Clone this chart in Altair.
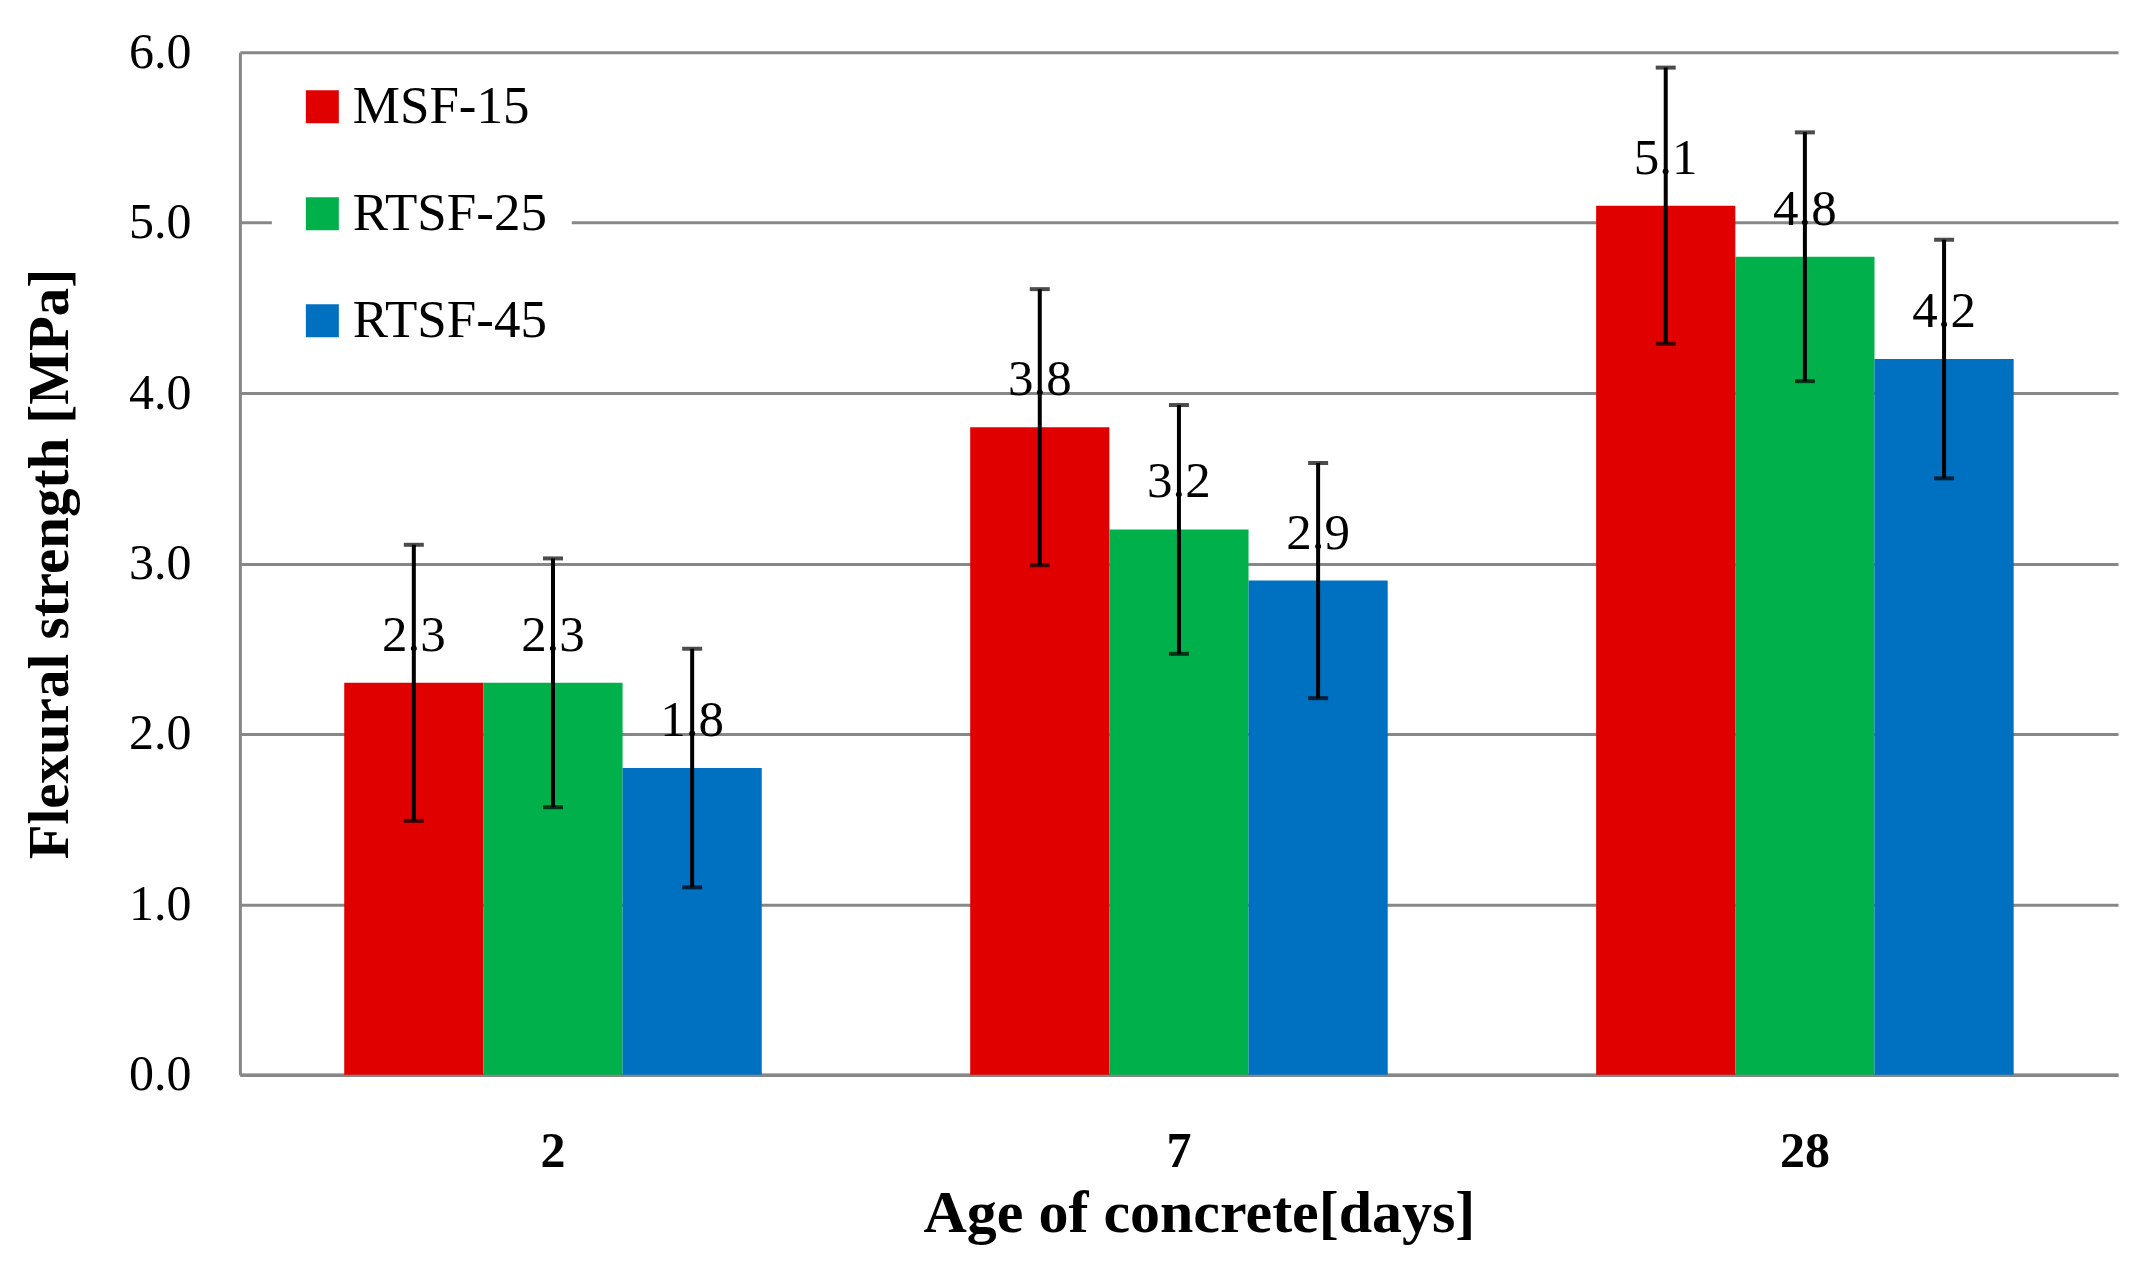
import altair as alt
import pandas as pd

days = ["2", "7", "28"]
series = ["MSF-15", "RTSF-25", "RTSF-45"]
colors = ["#E00000", "#00B04A", "#0070C0"]

msf15 = [2.3, 3.8, 5.1]
rtsf25 = [2.3, 3.2, 4.8]
rtsf45 = [1.8, 2.9, 4.2]

err_msf15 = [0.81, 0.81, 0.81]
err_rtsf25 = [0.73, 0.73, 0.73]
err_rtsf45 = [0.70, 0.69, 0.70]

rows = []
for s, vals, errs in zip(series, [msf15, rtsf25, rtsf45], [err_msf15, err_rtsf25, err_rtsf45]):
    for d, v, e in zip(days, vals, errs):
        rows.append({"day": d, "series": s, "value": v, "err": e})
df = pd.DataFrame(rows)

FONT = "Liberation Serif"
GRID = "#878787"
W, H = 1879, 1023

x = alt.X("day:N", sort=days,
          scale=alt.Scale(paddingInner=0.333, paddingOuter=0.1667),
          axis=alt.Axis(title="Age of concrete[days]", labelAngle=0,
                        labelFont=FONT, labelFontSize=50, labelFontWeight="bold",
                        labelColor="black", labelBaseline="alphabetic",
                        labelPadding=92, tickSize=0, ticks=False,
                        domainColor=GRID, domainWidth=3.5,
                        titleFont=FONT, titleFontSize=60, titleFontWeight="bold",
                        titleColor="black", titleBaseline="alphabetic",
                        titleX=W / 2 + 20, titleY=157, grid=False))
xoff = alt.XOffset("series:N", sort=series, scale=alt.Scale(paddingInner=0, paddingOuter=0))

y_axis = alt.Axis(title="Flexural strength [MPa]", values=[0, 1, 2, 3, 4, 5, 6], format=".1f",
                  labelFont=FONT, labelFontSize=50, labelColor="black",
                  labelPadding=49, tickSize=0, ticks=False,
                  domainColor=GRID, domainWidth=3,
                  gridColor=GRID, gridWidth=3,
                  titleFont=FONT, titleFontSize=57, titleFontWeight="bold",
                  titleColor="black", titleBaseline="alphabetic",
                  titleX=-172, titleY=H / 2, titleAngle=-90)
y = alt.Y("value:Q", scale=alt.Scale(domain=[0, 6], nice=False), axis=y_axis)

color = alt.Color("series:N", sort=series,
                  scale=alt.Scale(domain=series, range=colors),
                  legend=alt.Legend(title=None, orient="none", legendX=32, legendY=4,
                                    fillColor="white", padding=24,
                                    symbolType="square", symbolSize=1089, symbolStrokeWidth=0,
                                    labelFont=FONT, labelFontSize=53, labelColor="black",
                                    labelLimit=500, labelOffset=4, rowPadding=53))

base = alt.Chart(df)

bars = base.mark_bar().encode(x=x, xOffset=xoff, y=y, color=color)

labels = base.mark_text(font=FONT, fontSize=51, color="black", baseline="alphabetic", dy=-32).encode(
    x=alt.X("day:N", sort=days), xOffset=xoff, y=alt.Y("value:Q"),
    text=alt.Text("value:Q", format=".1f"))

errs = base.transform_calculate(lo="datum.value - datum.err", hi="datum.value + datum.err")

rule = errs.mark_rule(color="black", strokeWidth=4).encode(
    x=alt.X("day:N", sort=days), xOffset=xoff, y=alt.Y("lo:Q"), y2="hi:Q")
cap_lo = errs.mark_tick(color="black", thickness=4, size=20, orient="horizontal").encode(
    x=alt.X("day:N", sort=days), xOffset=xoff, y=alt.Y("lo:Q"))
cap_hi = errs.mark_tick(color="black", thickness=4, size=20, orient="horizontal").encode(
    x=alt.X("day:N", sort=days), xOffset=xoff, y=alt.Y("hi:Q"))

chart = alt.layer(bars, labels, rule, cap_lo, cap_hi).properties(
    width=W, height=H,
    autosize=alt.AutoSizeParams(type="none"),
    padding={"left": 232, "top": 44, "right": 10, "bottom": 180},
    background="white",
).configure_view(stroke=None)

chart.save("out.html", embed_options={"renderer": "svg", "actions": False})
